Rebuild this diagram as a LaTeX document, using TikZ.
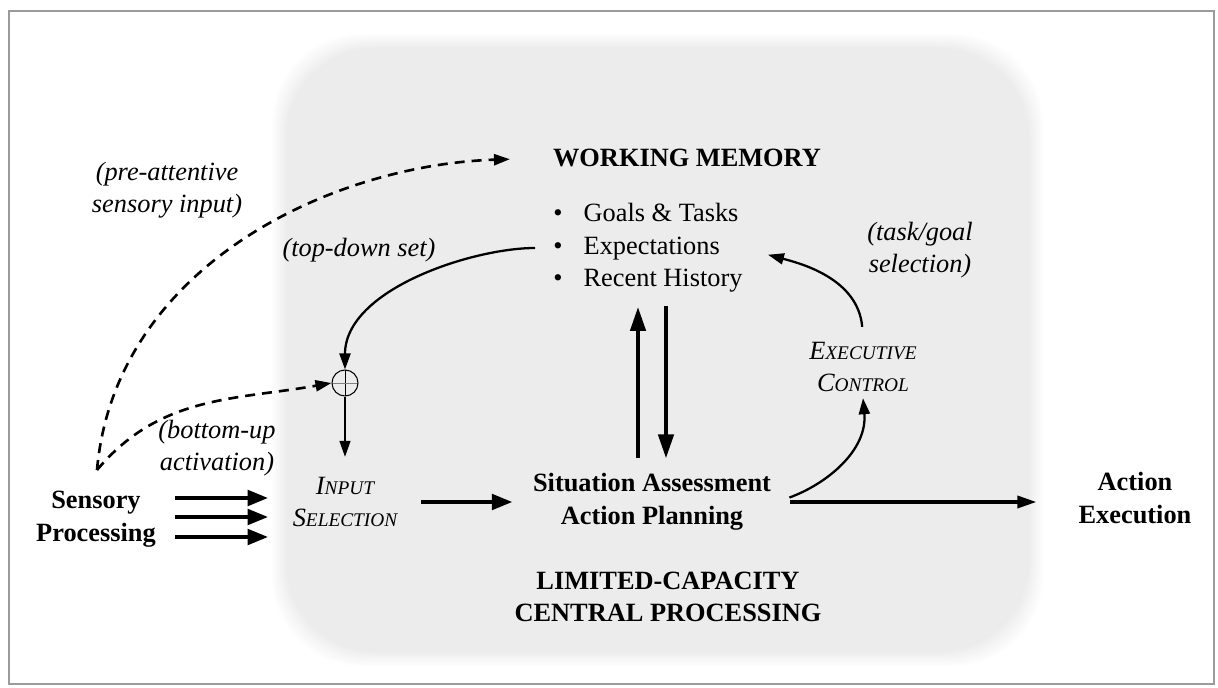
\documentclass[tikz,border=0pt]{standalone}
\usepackage{fontspec}
\setmainfont{Liberation Serif}
\usetikzlibrary{arrows.meta, positioning, calc}
\definecolor{panelgray}{RGB}{236,236,236}
\definecolor{framegray}{RGB}{155,155,155}
\newcommand{\fsc}[2]{#1{\fontsize{11}{12}\selectfont #2}}

\begin{document}
\begin{tikzpicture}[
    x=0.02cm, y=0.02cm,
    plaintext/.style={font=\fontsize{15}{18.5}\selectfont, align=center},
    boldtext/.style={plaintext, font=\fontsize{15}{18.5}\selectfont\bfseries},
    italtext/.style={plaintext, font=\fontsize{15}{18.5}\selectfont\itshape},
    sumnode/.style={circle, draw, line width=0.6pt, minimum size=0.52cm, inner sep=0pt,
        path picture={\draw[line width=0.5pt] (path picture bounding box.north) -- (path picture bounding box.south);
                      \draw[gray, line width=0.5pt] (path picture bounding box.west) -- (path picture bounding box.east);}},
    flow/.style={-{Triangle[length=0.32cm,width=0.22cm]}, line width=1.3pt},
    dashflow/.style={flow, line width=1.5pt, dash pattern=on 0.2cm off 0.14cm},
    bigflow/.style={-{Triangle[length=0.42cm,width=0.3cm]}, line width=2.8pt},
    vflow/.style={-{Triangle[length=0.48cm,width=0.3cm]}, line width=2.4pt},
    midflow/.style={-{Triangle[length=0.38cm,width=0.24cm]}, line width=1.9pt}
]
    \useasboundingbox (0,0) rectangle (1218,687);
    \draw[framegray, line width=1.1pt] (9,3) rectangle (1214,676);

    % Central processing panel, soft edge
    \foreach \k in {1,...,8} {
        \pgfmathsetmacro{\shade}{12.5*\k}
        \fill[panelgray!\shade!white, rounded corners=1.8cm] (270+2*\k,19+2*\k) rectangle (1045-2*\k,655-2*\k);
    }

    % Working memory
    \node[boldtext] (wm) at (687,529) {WORKING MEMORY};
    \node[plaintext, align=left, anchor=west, inner sep=0pt] (wmlist) at (553,439)
        {\textbullet\hspace{12pt}Goals \& Tasks\\\textbullet\hspace{12pt}Expectations\\\textbullet\hspace{12pt}Recent History};

    % Labels
    \node[italtext] (preatt) at (167,497) {(pre-attentive\\sensory input)};
    \node[italtext] (topdown) at (359,437) {(top-down set)};
    \node[italtext] (taskgoal) at (920,437) {(task/goal\\selection)};
    \node[italtext] (botup) at (217,239) {(bottom-up\\activation)};

    % Stages
    \node[sumnode] (sum) at (345,304) {};
    \node[italtext] (inpsel) at (345,185) {\fsc{I}{NPUT}\\\fsc{S}{ELECTION}};
    \node[boldtext] (sensory) at (96,168) {Sensory\\Processing};
    \node[boldtext] (situation) at (652,185) {Situation Assessment\\Action Planning};
    \node[italtext] (exec) at (863,320) {\fsc{E}{XECUTIVE}\\\fsc{C}{ONTROL}};
    \node[boldtext] (action) at (1135,189) {Action\\Execution};
    \node[boldtext] (lcc) at (668,90) {LIMITED-CAPACITY\\CENTRAL PROCESSING};

    % Connections
    \coordinate (senstop) at (97,217);
    \draw[dashflow, shorten >=0.74cm] (senstop) .. controls (115,420) and (330,522) .. (wm.west);
    \draw[dashflow] (senstop) to[out=50, in=190] (sum.west);
    \draw[flow, shorten <=0.36cm] (wmlist.west) to[out=180, in=90, looseness=0.85] (sum.north);
    \draw[flow, line width=0.9pt, shorten >=0.28cm] (sum.south) -- (inpsel.north);

    \foreach \dy in {21,2,-18}
        \draw[bigflow, shorten <=0.26cm, shorten >=0.36cm] ([yshift=\dy*0.02cm]sensory.east) -- ([yshift=\dy*0.02cm]sensory.east -| inpsel.west);
    \draw[bigflow, shorten <=0.36cm, shorten >=0.28cm] (inpsel.east) -- (inpsel.east -| situation.west);

    \draw[vflow, shorten <=0.18cm, shorten >=0.28cm] ([xshift=-0.28cm]situation.north) -- ([xshift=-0.28cm]situation.north |- wmlist.south);
    \draw[vflow, shorten <=0.26cm, shorten >=0.18cm] ([xshift=0.28cm]situation.north |- wmlist.south) -- ([xshift=0.28cm]situation.north);

    \draw[flow, shorten <=0.26cm] (situation.east) to[out=20, in=-85] (exec.south);
    \draw[flow, shorten <=0.18cm, shorten >=0.52cm] (exec.north) to[out=95, in=-15] (wmlist.east);
    \draw[midflow, shorten <=0.26cm, shorten >=0.72cm] (situation.east) -- (situation.east -| action.west);
\end{tikzpicture}
\end{document}
